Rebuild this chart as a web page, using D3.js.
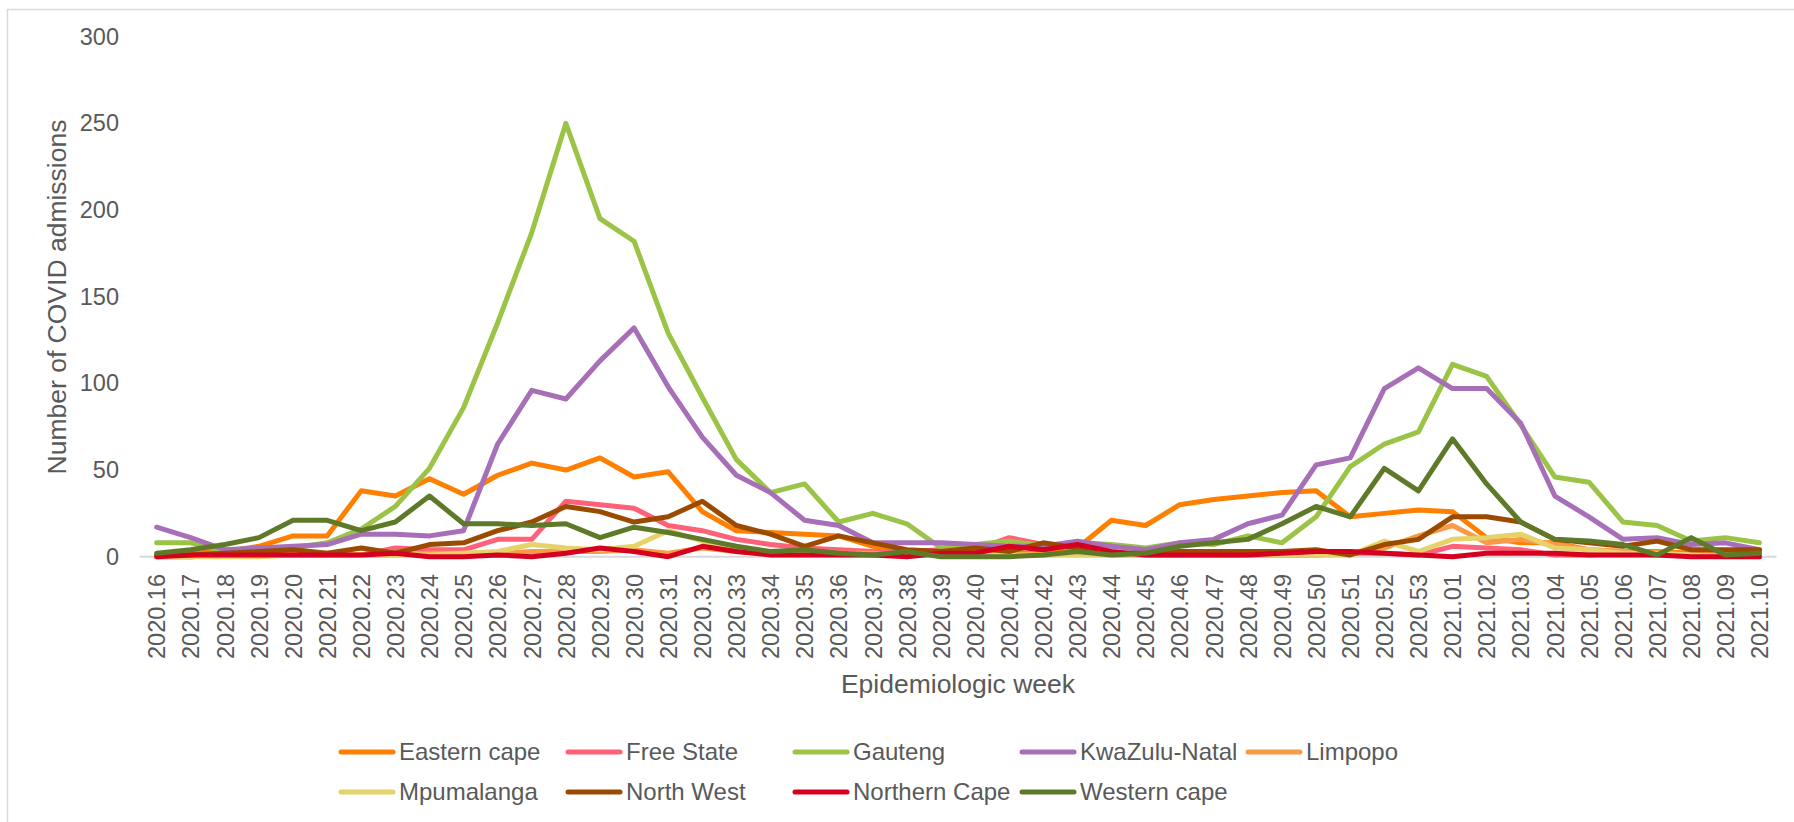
<!DOCTYPE html>
<html>
<head>
<meta charset="utf-8">
<script src="https://cdn.jsdelivr.net/npm/d3@7"></script>
<style>
  html, body { margin: 0; padding: 0; background: #ffffff; }
  svg { display: block; }
  text { font-family: "Liberation Sans", Arial, sans-serif; fill: #595959; }
</style>
</head>
<body>
<svg id="chart" width="1794" height="822"></svg>
<script>
// Epidemiologic weeks on the x axis
const weeks = [
  "2020.16","2020.17","2020.18","2020.19","2020.20","2020.21","2020.22","2020.23",
  "2020.24","2020.25","2020.26","2020.27","2020.28","2020.29","2020.30","2020.31",
  "2020.32","2020.33","2020.34","2020.35","2020.36","2020.37","2020.38","2020.39",
  "2020.40","2020.41","2020.42","2020.43","2020.44","2020.45","2020.46","2020.47",
  "2020.48","2020.49","2020.50","2020.51","2020.52","2020.53","2021.01","2021.02",
  "2021.03","2021.04","2021.05","2021.06","2021.07","2021.08","2021.09","2021.10"
];

// Weekly COVID admissions per province
const easternCape  = [1,2,3,6,12,12,38,35,45,36,47,54,50,57,46,49,26,15,14,13,12,6,3,2,1,2,2,5,21,18,30,33,35,37,38,23,25,27,26,11,8,8,4,3,3,2,3,3];
const freeState    = [0,0,1,1,1,1,1,5,4,4,10,10,32,30,28,18,15,10,7,5,4,3,3,4,4,11,7,4,2,1,1,1,1,1,1,2,2,1,6,5,4,1,1,2,1,1,1,1];
const gauteng      = [8,8,3,4,5,8,16,29,51,86,135,187,250,195,182,129,92,56,37,42,20,25,19,5,7,9,6,8,7,5,8,7,12,8,23,52,65,72,111,104,76,46,43,20,18,9,11,8];
const kwaZuluNatal = [17,11,4,5,6,7,13,13,12,15,65,96,91,113,132,98,69,47,37,21,18,8,8,8,7,6,6,9,6,4,8,10,19,24,53,57,97,109,97,97,77,35,23,10,11,7,8,4];
const limpopo      = [0,0,1,1,2,2,1,1,2,2,2,3,3,3,4,2,5,3,2,2,2,2,1,1,1,1,1,2,1,1,1,1,1,1,1,2,5,12,18,8,10,7,4,3,2,1,1,1];
const mpumalanga   = [0,0,0,0,1,1,1,1,1,2,3,7,5,4,6,15,9,4,1,1,1,1,1,1,1,1,1,1,1,1,2,2,1,1,1,1,9,3,10,11,13,5,4,2,2,1,0,0];
const northWest    = [1,1,2,3,4,2,5,2,7,8,15,20,29,26,20,23,32,18,13,6,12,8,4,3,5,3,8,5,2,2,3,3,3,3,4,1,7,10,23,23,20,10,8,6,9,4,4,4];
const northernCape = [0,1,1,1,1,1,1,2,0,0,1,0,2,5,3,0,6,3,1,1,1,1,0,2,2,6,4,7,3,1,1,1,1,2,3,3,2,1,0,2,2,2,1,1,1,0,0,0];
const westernCape  = [2,4,7,11,21,21,15,20,35,19,19,18,19,11,17,14,10,6,3,4,2,1,3,0,0,0,1,3,1,2,6,8,10,19,29,23,51,38,68,42,20,10,9,7,1,11,1,2];

const provinces = ["Eastern cape","Free State","Gauteng","KwaZulu-Natal","Limpopo",
                   "Mpumalanga","North West","Northern Cape","Western cape"];
const provinceValues = [easternCape, freeState, gauteng, kwaZuluNatal, limpopo,
                        mpumalanga, northWest, northernCape, westernCape];
const provinceColors = ["#ff7f00","#ff6178","#9bc346","#a66fb8","#f99a48",
                        "#e5d369","#9a4b00","#d50020","#5e7a28"];

const yTicks = [0, 50, 100, 150, 200, 250, 300];

const svg = d3.select("#chart");

// Outer chart frame
svg.append("rect")
  .attr("x", 7.5).attr("y", 9.5)
  .attr("width", 1800).attr("height", 900)
  .attr("fill", "none").attr("stroke", "#d9d9d9").attr("stroke-width", 1.5);

const x = d3.scalePoint().domain(weeks).range([139.6, 1776.5]).padding(0.5);
const y = d3.scaleLinear().domain([0, 300]).range([556.7, 36.7]);

// Baseline at zero
svg.append("line")
  .attr("x1", 139.6).attr("x2", 1776.5)
  .attr("y1", y(0)).attr("y2", y(0))
  .attr("stroke", "#d9d9d9").attr("stroke-width", 2);

// Y axis labels
const yAxis = svg.append("g")
  .attr("transform", "translate(128,0)")
  .call(d3.axisLeft(y).tickValues(yTicks).tickSize(0).tickPadding(0));
yAxis.select(".domain").remove();
yAxis.selectAll("text")
  .attr("x", -9)
  .style("font-size", "23.5px")
  .style("font-family", "'Liberation Sans', Arial, sans-serif")
  .attr("fill", "#595959");

// X axis labels, rotated
const xAxis = svg.append("g")
  .attr("transform", "translate(0,574)")
  .call(d3.axisBottom(x).tickSize(0).tickPadding(0));
xAxis.select(".domain").remove();
xAxis.selectAll("text")
  .attr("transform", "rotate(-90)")
  .attr("x", 0).attr("y", 0).attr("dy", "0.35em")
  .attr("text-anchor", "end")
  .style("font-size", "23.5px")
  .style("font-family", "'Liberation Sans', Arial, sans-serif")
  .attr("fill", "#595959");

// Axis titles
svg.append("text")
  .attr("x", 958).attr("y", 693)
  .attr("text-anchor", "middle")
  .style("font-size", "26.5px")
  .text("Epidemiologic week");

svg.append("text")
  .attr("transform", "translate(66,297) rotate(-90)")
  .attr("text-anchor", "middle")
  .style("font-size", "26.5px")
  .text("Number of COVID admissions");

// Province lines
const line = d3.line()
  .x((d, i) => x(weeks[i]))
  .y(d => y(d));

svg.append("g").selectAll("path")
  .data(provinceValues)
  .join("path")
  .attr("d", line)
  .attr("fill", "none")
  .attr("stroke", (d, i) => provinceColors[i])
  .attr("stroke-width", 5)
  .attr("stroke-linejoin", "round")
  .attr("stroke-linecap", "round");

// Legend in two rows
const legendCols = [341, 568, 795, 1022, 1248];
const legendRows = [752, 792];
const legend = svg.append("g").selectAll("g")
  .data(provinces)
  .join("g")
  .attr("transform", (d, i) => `translate(${legendCols[i % 5]},${legendRows[Math.floor(i / 5)]})`);

legend.append("line")
  .attr("x1", 0).attr("x2", 52)
  .attr("stroke", (d, i) => provinceColors[i])
  .attr("stroke-width", 5)
  .attr("stroke-linecap", "round");

legend.append("text")
  .attr("x", 58).attr("dy", "0.35em")
  .style("font-size", "24px")
  .text(d => d);
</script>
</body>
</html>
